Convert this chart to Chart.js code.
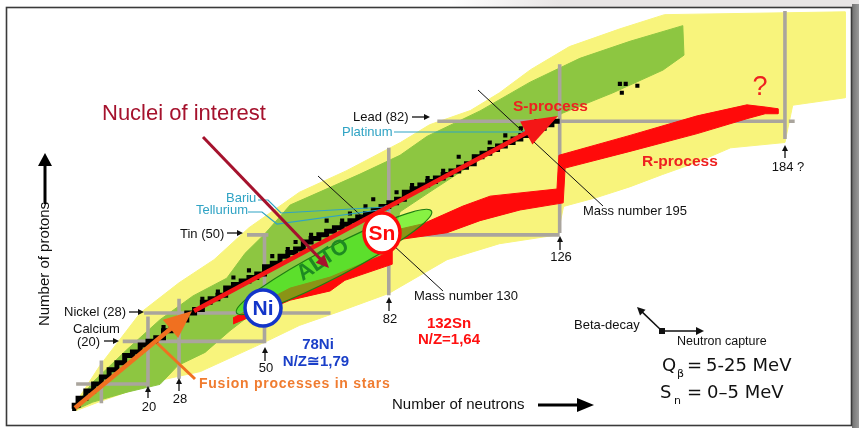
<!DOCTYPE html>
<html><head><meta charset="utf-8">
<script src="https://cdn.jsdelivr.net/npm/chart.js@4.4.1/dist/chart.umd.min.js"></script>
<style>html,body{margin:0;padding:0;background:#fff;overflow:hidden}#wrap{width:859px;height:428px;position:relative}</style>
</head><body><div id="wrap"><canvas id="c" width="859" height="428"></canvas></div>
<script>
// ---- Data (N = number of neutrons, Z = number of protons) ----
// Outline of all predicted nuclei (yellow)
const yellowN = [1,7.5,18,28,37,46,59,71,85,92.5,103,110.5,118.5,128.5,141.5,153,199.5,199.5,186,184,170,161.5,152.5,144,135.5,127,125.5,110.5,97,82,69.5,59,50.5,33.5,23,7.5,1.5];
const yellowZ = [2,13,28,36.5,43,52,62,68,76,81,85,90,96.5,103,108,112,112.8,88.6,86.5,76,74.5,70.5,67,63.5,60.5,58,50,47.5,43,33.5,28.5,24.5,20,11.5,9,3,0.5];
// Outline of known nuclei (green)
const greenN = [1.2,5.8,14.6,23.1,31.6,40.3,45,50.1,56.6,64.3,74.6,84.9,91.8,105.5,118.4,131.2,144.1,157.7,158,152.6,139.7,126.8,118.4,105.5,92.6,84.9,81.5,66.9,56.6,45,41.1,34.7,27.7,23.1,14.6,5.8,1.2];
const greenZ = [1.8,8.5,17.7,26.1,32.8,37.8,44.8,50.3,58.4,62.1,67.1,72.4,77.7,84.9,93,99.7,104.5,108.9,100.6,96.4,90,84.3,78.8,71.3,62.1,56.5,44.2,37.5,34.2,26.3,23,16.9,13.2,7.9,5.7,2.9,0.7];
// R-process path (red)
const redN = [41.9,56.6,66.9,81.5,82,90.8,101.1,108.1,125.3,125.8,144.1,161.4,174.2,178.9,182.2,182.2,178.9,174.2,161.4,144.1,127.4,126.9,115.8,105.5,97,84.9,82.8,82.8,70.7,66.9,56.6,41.9];
const redZ = [26.6,35,38.1,44.8,50.9,53.1,58.1,60.9,62.9,72.4,78,83.5,86.6,86,85.5,84.1,84.1,82.7,78.5,73.5,68.8,59,57,54,50.6,48.7,48.1,41.7,37.2,34.2,31.6,24.9];
// Valley of stability (black)
const stableN = [1,2,4,6,8,10,12,14,16,18,20,22,24,26,28,30,32,34,36,38,40,42,44,46,48,50,52,54,56,58,60,62,64,66,68,70,72,74,76,78,80,82,84,86,88,90,92,94,96,98,100,102,104,106,108,110,112,114,116,118,120,122,124,126];
const stableZ = [1,2,4,6,8,10,12,14,16,17,19,20,21,23,24,26,28,29,31,32,33,35,36,37,38,39,41,42,44,45,46,48,49,50,51,52,53,54,55,56,57,58,59,60,62,63,64,65,66,67,68,69,70,72,73,74,75,76,77,78,79,80,81,82];
const isolatedN = [1,24,30,34,38,42,46,52,56,58,62,66,70,72,76,78,84,88,92,96,100,104,108,112,116,120,141.5,143,146,142];
const isolatedZ = [1,24,28,32,34,38,40,44,46,48,50,54,54,56,58,60,62,64,66,68,72,72,76,78,80,82,92.5,92.5,92,90];
// Magic-number lines (grey)
const lineN1 = [8, 20, 28, 50, 82, 126, 184, 1.5, 13.5, 19, 45.5, 88, 94.5, 185];
const lineN2 = [8, 20, 28, 50, 82, 126, 184, 20, 50, 67, 51, 126, 184, 186.5];
const lineZ1 = [2.6, 7, 9.5, 19.5, 33, 50.5, 77, 8, 20, 28, 50, 50, 82, 82];
const lineZ2 = [14.6, 27, 32, 50, 74.5, 98, 113, 8, 20, 28, 50, 50, 82, 82];

const pts = (xs, ys) => xs.map((x, i) => ({x, y: ys[i]}));

const datasets = [];
datasets.push({data: pts(yellowN, yellowZ), showLine: true, fill: 'shape', backgroundColor: '#f8f47c', borderColor: '#f8f47c', borderWidth: 1, pointRadius: 0, order: 10});
datasets.push({data: pts(greenN, greenZ), showLine: true, fill: 'shape', backgroundColor: '#8dc641', borderColor: '#8dc641', borderWidth: 1, pointRadius: 0, order: 9});
lineN1.forEach((n, i) => {
  datasets.push({data: [{x: n, y: lineZ1[i]}, {x: lineN2[i], y: lineZ2[i]}], showLine: true, fill: false, borderColor: '#aaa59d', borderWidth: 3.6, pointRadius: 0, order: 8});
});
datasets.push({data: pts(redN, redZ), showLine: true, fill: 'shape', backgroundColor: '#ff0a0a', borderColor: '#ff0a0a', borderWidth: 1, pointRadius: 0, order: 7});
datasets.push({data: pts(stableN, stableZ), showLine: true, stepped: 'after', fill: false, borderColor: '#000', borderWidth: 5, pointRadius: 0, order: 6});
datasets.push({data: pts(isolatedN, isolatedZ), showLine: false, pointStyle: 'rect', pointRadius: 2.9, backgroundColor: '#000', borderWidth: 0, order: 5});

const F = '"Liberation Sans", Arial, sans-serif';
function arrow(ctx, x1, y1, x2, y2, w, color, hl, hw) {
  const a = Math.atan2(y2 - y1, x2 - x1);
  const bx = x2 - hl * Math.cos(a), by = y2 - hl * Math.sin(a);
  ctx.strokeStyle = color; ctx.lineWidth = w; ctx.lineCap = 'butt';
  ctx.beginPath(); ctx.moveTo(x1, y1); ctx.lineTo(bx + Math.cos(a), by + Math.sin(a)); ctx.stroke();
  ctx.fillStyle = color; ctx.beginPath(); ctx.moveTo(x2, y2);
  ctx.lineTo(bx - hw * Math.sin(a), by + hw * Math.cos(a));
  ctx.lineTo(bx + hw * Math.sin(a), by - hw * Math.cos(a));
  ctx.closePath(); ctx.fill();
}
function txt(ctx, s, x, y, font, color, align, ls) {
  ctx.font = font; ctx.fillStyle = color; ctx.textAlign = align || 'left'; ctx.textBaseline = 'middle';
  ctx.letterSpacing = ls || '0px';
  ctx.fillText(s, x, y);
  ctx.letterSpacing = '0px';
}
function poly(ctx, p, w, color) {
  ctx.strokeStyle = color; ctx.lineWidth = w; ctx.beginPath();
  ctx.moveTo(p[0], p[1]);
  for (let i = 2; i < p.length; i += 2) ctx.lineTo(p[i], p[i + 1]);
  ctx.stroke();
}

const annot = {
  id: 'annot',
  beforeDraw(chart) {
    const ctx = chart.ctx;
    ctx.save();
    ctx.fillStyle = '#fff'; ctx.fillRect(0, 0, 859, 428);
    const g = ctx.createLinearGradient(450, 0, 560, 0);
    g.addColorStop(0, 'rgba(232,229,229,0)'); g.addColorStop(1, '#e8e5e5');
    ctx.fillStyle = g; ctx.fillRect(430, 0, 429, 7);
    const g2 = ctx.createLinearGradient(851, 0, 859, 0);
    g2.addColorStop(0, '#6c6c6c'); g2.addColorStop(1, '#9a9a9a');
    ctx.fillStyle = g2; ctx.fillRect(852, 4, 7, 424);
    ctx.restore();
  },
  afterDatasetsDraw(chart) {
    const ctx = chart.ctx;
    ctx.save();
    // ALTO ellipse
    ctx.beginPath();
    ctx.ellipse(334, 262, 110, 15, Math.atan2(-101, 194), 0, Math.PI * 2);
    ctx.fillStyle = 'rgba(60,240,30,0.6)'; ctx.fill();
    ctx.strokeStyle = '#1d7d12'; ctx.lineWidth = 1.2; ctx.stroke();
    ctx.save(); ctx.translate(323, 260); ctx.rotate(-34 * Math.PI / 180);
    txt(ctx, 'ALTO', 0, 0, 'bold 22px ' + F, '#1e8a22', 'center');
    ctx.restore();
    // mass number lines
    poly(ctx, [318, 176, 443, 291], 1, '#111');
    poly(ctx, [478, 90, 603, 206], 1, '#111');
    // teal lines
    const teal = '#2fa3c4';
    poly(ctx, [394, 132, 527, 132], 1.2, teal);
    ctx.beginPath(); ctx.arc(527, 132, 2.5, 0, Math.PI * 2); ctx.strokeStyle = teal; ctx.stroke();
    poly(ctx, [258, 200, 268, 200, 281, 213, 386, 207], 1.2, teal);
    poly(ctx, [248, 212, 262, 212, 277, 224, 386, 209], 1.2, teal);
    ctx.beginPath(); ctx.arc(387, 208, 2.5, 0, Math.PI * 2); ctx.strokeStyle = teal; ctx.stroke();
    // process arrows
    arrow(ctx, 194, 311, 558, 116, 4.5, '#f41616', 36, 13);
    arrow(ctx, 75, 408, 192, 311, 4.5, '#f07020', 28, 12);
    poly(ctx, [195, 379, 157, 343], 3, '#f07020');
    arrow(ctx, 203, 137, 329, 268, 3, '#a5122d', 13, 6);
    // Ni circle
    ctx.beginPath(); ctx.arc(263, 308, 18, 0, Math.PI * 2);
    ctx.fillStyle = '#fff'; ctx.fill(); ctx.strokeStyle = '#1235c9'; ctx.lineWidth = 3.5; ctx.stroke();
    txt(ctx, 'Ni', 263, 309, 'bold 21px ' + F, '#1235c9', 'center');
    // Sn circle
    ctx.beginPath(); ctx.ellipse(382, 233, 18, 20, 0, 0, Math.PI * 2);
    ctx.fillStyle = '#fff'; ctx.fill(); ctx.strokeStyle = '#ff0a0a'; ctx.lineWidth = 3.5; ctx.stroke();
    txt(ctx, 'Sn', 382, 234, 'bold 21px ' + F, '#ff0a0a', 'center');
    ctx.restore();
  },
  afterDraw(chart) {
    const ctx = chart.ctx;
    ctx.save();
    const f13 = '13px ' + F;
    txt(ctx, 'Nuclei of interest', 102, 114, '22px ' + F, '#a5122d');
    txt(ctx, 'Lead (82)', 353, 117, f13, '#111');
    arrow(ctx, 412, 117, 430, 117, 1.3, '#111', 6, 3);
    txt(ctx, 'Platinum', 342, 132, f13, '#2fa3c4');
    txt(ctx, 'Bariu', 226, 198, f13, '#2fa3c4');
    txt(ctx, 'Tellurium', 196, 210, f13, '#2fa3c4');
    txt(ctx, 'Tin (50)', 180, 234, f13, '#111');
    arrow(ctx, 227, 233, 243, 233, 1.3, '#111', 6, 3);
    txt(ctx, 'Nickel (28)', 64, 312, f13, '#111');
    arrow(ctx, 129, 312, 144, 312, 1.3, '#111', 6, 3);
    txt(ctx, 'Calcium', 73, 329, f13, '#111');
    txt(ctx, '(20)', 77, 342, f13, '#111');
    arrow(ctx, 104, 341, 119, 341, 1.3, '#111', 6, 3);
    // magic number labels below
    const ml = [['20', 148, 398, 386, 407], ['28', 179, 391, 378, 399], ['50', 265, 361, 347, 368], ['82', 389, 311, 297, 319], ['126', 560, 250, 236, 257], ['184 ?', 785, 158, 145, 167]];
    ml.forEach(m => {
      arrow(ctx, m[1], m[2], m[1], m[3], 1.3, '#111', 6, 3);
      txt(ctx, m[0], m[0] === '184 ?' ? 788 : m[1] + 1, m[4], f13, '#111', 'center');
    });
    txt(ctx, 'Mass number 195', 583, 211, f13, '#111');
    txt(ctx, 'Mass number 130', 414, 296, f13, '#111');
    txt(ctx, 'S-process', 513, 107, 'bold 15.5px ' + F, '#ee2020');
    txt(ctx, 'R-process', 642, 162, 'bold 15.5px ' + F, '#ee2020');
    txt(ctx, '?', 760, 88, '27px ' + F, '#ee2020', 'center');
    txt(ctx, '78Ni', 318, 345, 'bold 15px ' + F, '#1a3fc8', 'center');
    txt(ctx, 'N/Z\u22451,79', 316, 362, 'bold 15px ' + F, '#1a3fc8', 'center');
    txt(ctx, '132Sn', 449, 324, 'bold 15px ' + F, '#ff1010', 'center');
    txt(ctx, 'N/Z=1,64', 449, 340, 'bold 15px ' + F, '#ff1010', 'center');
    txt(ctx, 'Fusion processes in stars', 199, 384, 'bold 14px ' + F, '#f07c30', 'left', '0.75px');
    // axis titles
    ctx.save(); ctx.translate(45, 264); ctx.rotate(-Math.PI / 2);
    txt(ctx, 'Number of protons', 0, 0, '15px ' + F, '#111', 'center');
    ctx.restore();
    arrow(ctx, 45, 204, 45, 153, 3, '#000', 13, 7);
    txt(ctx, 'Number of neutrons', 392, 405, '15px ' + F, '#111');
    arrow(ctx, 538, 405, 594, 405, 3, '#000', 17, 7);
    // decay legend
    txt(ctx, 'Beta-decay', 574, 325, '13px ' + F, '#111');
    arrow(ctx, 662, 331, 637, 307, 1.5, '#111', 8, 4);
    arrow(ctx, 662, 331, 704, 331, 1.5, '#111', 8, 4);
    ctx.fillStyle = '#111'; ctx.fillRect(659, 328, 6, 6);
    txt(ctx, 'Neutron capture', 677, 342, '12.5px ' + F, '#111');
    const D = '"DejaVu Sans", Verdana, sans-serif';
    ctx.textBaseline = 'alphabetic'; ctx.textAlign = 'left'; ctx.fillStyle = '#111';
    ctx.font = '18px ' + D; ctx.fillText('Q', 662, 371);
    ctx.font = '11px ' + D; ctx.fillText('\u03b2', 677, 377);
    ctx.font = '18px ' + D; ctx.fillText('=', 687, 371); ctx.fillText('5-25 MeV', 706, 371);
    ctx.font = '18px ' + D; ctx.fillText('S', 660, 398);
    ctx.font = '11px ' + D; ctx.fillText('n', 674, 404);
    ctx.font = '18px ' + D; ctx.fillText('=', 687, 398); ctx.fillText('0\u20135 MeV', 707, 398);
    // frame
    ctx.strokeStyle = '#3a3a3a'; ctx.lineWidth = 1.6;
    ctx.strokeRect(6.5, 7.5, 845, 418);
    ctx.restore();
  }
};

new Chart(document.getElementById('c'), {
  type: 'scatter',
  data: {datasets},
  options: {
    responsive: false, animation: false, devicePixelRatio: 1,
    layout: {padding: {left: 70.3, right: 11.9, top: 0, bottom: 15.6}},
    plugins: {legend: {display: false}, tooltip: {enabled: false}},
    scales: {
      x: {type: 'linear', min: 0, max: 200, display: false},
      y: {type: 'linear', min: 0, max: 115, display: false}
    },
    elements: {line: {tension: 0}}
  },
  plugins: [annot]
});
</script></body></html>
